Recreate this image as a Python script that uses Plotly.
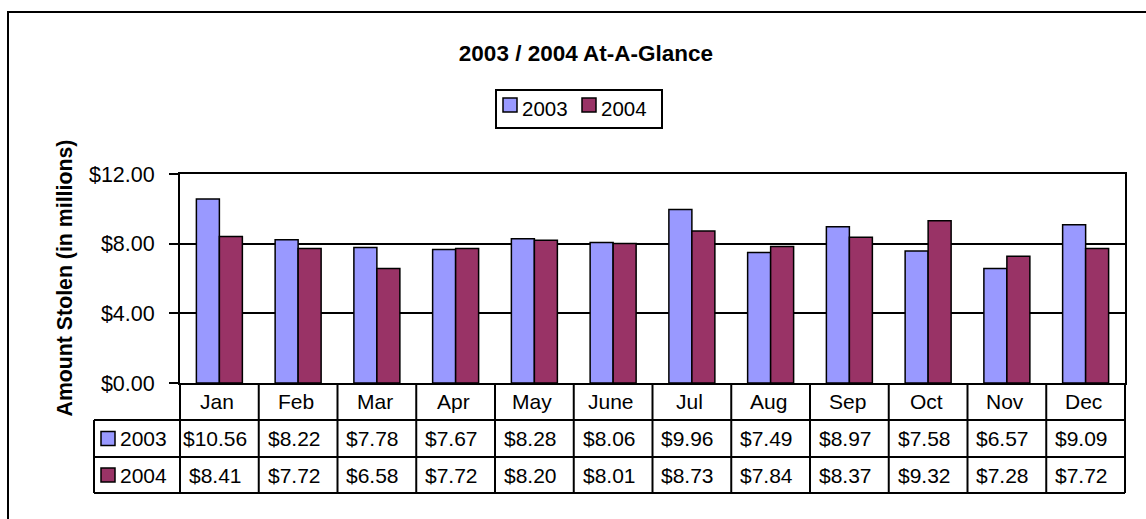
import plotly.graph_objects as go

# ---- data ----
months = ["Jan", "Feb", "Mar", "Apr", "May", "June", "Jul", "Aug", "Sep", "Oct", "Nov", "Dec"]
series_names = ["2003", "2004"]
values_2003 = [10.56, 8.22, 7.78, 7.67, 8.28, 8.06, 9.96, 7.49, 8.97, 7.58, 6.57, 9.09]
values_2004 = [8.41, 7.72, 6.58, 7.72, 8.20, 8.01, 8.73, 7.84, 8.37, 9.32, 7.28, 7.72]
y_tick_vals = [0, 4, 8, 12]
title_text = "2003 / 2004 At-A-Glance"
y_title_text = "Amount Stolen (in millions)"

colors = ["#9999FF", "#993366"]
FONT = "Liberation Sans, Arial, sans-serif"

# ---- geometry (pixels) ----
W, H = 1146, 519
L, R, T, B = 180, 21, 174, 136
PW = W - L - R
PH = H - T - B


def px(x):
    return (x - L) / PW


def py(y):
    return (H - B - y) / PH


series_values = [values_2003, values_2004]

fig = go.Figure()
for name, vals, col in zip(series_names, series_values, colors):
    fig.add_trace(go.Bar(
        x=months, y=vals, name=name,
        marker=dict(color=col, line=dict(color="black", width=1.5)),
        hoverinfo="skip", showlegend=False,
    ))

shapes = []
annotations = []
line = dict(color="black", width=2)

# ---- legend (Excel style box) ----
shapes.append(dict(type="rect", xref="paper", yref="paper",
                   x0=px(496), x1=px(662), y0=py(90), y1=py(128),
                   line=line, fillcolor="white"))
legend_sym_x = [503, 582]
for name, col, sx in zip(series_names, colors, legend_sym_x):
    shapes.append(dict(type="rect", xref="paper", yref="paper",
                       x0=px(sx), x1=px(sx + 14), y0=py(98), y1=py(112),
                       fillcolor=col, line=dict(color="black", width=1.5)))
    annotations.append(dict(x=px(sx + 17), y=py(108.5), xref="paper", yref="paper",
                            text=name, showarrow=False, xanchor="left", yanchor="middle",
                            font=dict(family=FONT, size=20.5, color="black")))

# ---- data table ----
row_h = [383, 420, 457, 493]
table_left = 94
for yy in row_h[1:]:
    shapes.append(dict(type="line", xref="paper", yref="paper",
                       x0=px(table_left), x1=px(W - R), y0=py(yy), y1=py(yy), line=line))
shapes.append(dict(type="line", xref="paper", yref="paper",
                   x0=px(table_left), x1=px(table_left), y0=py(row_h[1]), y1=py(row_h[3]), line=line))
n = len(months)
for k in range(n + 1):
    xx = L + k * PW / n
    shapes.append(dict(type="line", xref="paper", yref="paper",
                       x0=px(xx), x1=px(xx), y0=py(row_h[0]), y1=py(row_h[3]), line=line))

row_centers = [(row_h[i] + row_h[i + 1]) / 2 for i in range(3)]
for m in months:
    annotations.append(dict(x=m, y=py(row_centers[0]), xref="x", yref="paper",
                            text=m, showarrow=False, xanchor="center", yanchor="middle",
                            xshift=-2,
                            font=dict(family=FONT, size=21, color="black")))
for r, (name, vals, col) in enumerate(zip(series_names, series_values, colors)):
    yc = row_centers[r + 1]
    for m, v in zip(months, vals):
        annotations.append(dict(x=m, y=py(yc), xref="x", yref="paper",
                                text=f"${v:.2f}", showarrow=False, xanchor="center",
                                yanchor="middle", xshift=-4,
                                font=dict(family=FONT, size=21, color="black")))
    shapes.append(dict(type="rect", xref="paper", yref="paper",
                       x0=px(101), x1=px(115), y0=py(yc - 7), y1=py(yc + 7),
                       fillcolor=col, line=dict(color="black", width=1.5)))
    annotations.append(dict(x=px(118), y=py(yc), xref="paper", yref="paper",
                            text=name, showarrow=False, xanchor="left", yanchor="middle",
                            font=dict(family=FONT, size=21, color="black")))

# y axis title
annotations.append(dict(x=px(64.5), y=py(278), xref="paper", yref="paper",
                        text=y_title_text, textangle=-90, showarrow=False,
                        xanchor="center", yanchor="middle",
                        font=dict(family=FONT, size=21.3, color="black", weight="bold")))

# outer chart border
shapes.append(dict(type="rect", xref="paper", yref="paper",
                   x0=px(8), x1=px(1160), y0=py(12), y1=py(540),
                   line=dict(color="black", width=2), fillcolor="rgba(0,0,0,0)", layer="below"))

fig.update_layout(
    width=W, height=H,
    margin=dict(l=L, r=R, t=T, b=B, pad=0),
    paper_bgcolor="white", plot_bgcolor="white",
    barmode="group", bargap=0.416, bargroupgap=0,
    font=dict(family=FONT, size=21, color="black"),
    title=dict(text=title_text, x=586 / W, y=1 - 53 / H, xref="container", yref="container",
               xanchor="center", yanchor="middle",
               font=dict(family=FONT, size=22.5, color="black", weight="bold")),
    showlegend=False,
    xaxis=dict(showticklabels=False, ticks="", showline=True, linecolor="black", linewidth=2,
               mirror=True, showgrid=False, zeroline=False, range=[-0.5, n - 0.5]),
    yaxis=dict(range=[0, 12], tickvals=y_tick_vals, tickformat="$.2f", ticks="outside",
               ticklen=9, tickwidth=2, tickcolor="black", showline=True, linecolor="black",
               linewidth=2, mirror=True, showgrid=True, gridcolor="black", gridwidth=2,
               zeroline=False, ticklabelstandoff=10,
               tickfont=dict(family=FONT, size=21.5, color="black")),
    shapes=shapes,
    annotations=annotations,
)

fig.write_html("out.html", config={"displayModeBar": False},
               post_script="document.body.style.margin='0';document.body.style.overflow='hidden';")
